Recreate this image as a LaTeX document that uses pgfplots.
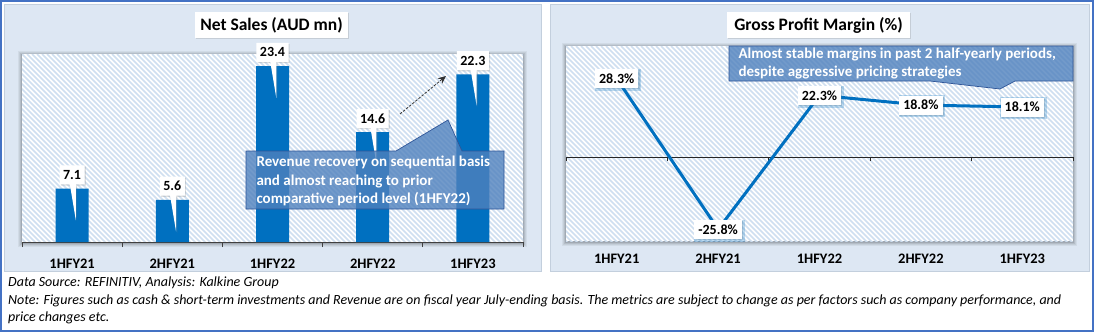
\documentclass[border=0pt]{standalone}
\usepackage{fontspec}
\setmainfont{Carlito}
\usepackage{pgfplots}
\pgfplotsset{compat=1.18}
\usepackage{pgfplotstable}
\usetikzlibrary{shapes.callouts,shadows,arrows.meta}

\definecolor{frameblue}{HTML}{4472C4}
\definecolor{panelbg}{HTML}{DDE7F3}
\definecolor{panelline}{HTML}{C3CFDD}
\definecolor{hatch}{HTML}{CFDFF0}
\definecolor{barblue}{HTML}{0070C0}
\definecolor{calloutfill}{HTML}{4F81BD}
\definecolor{calloutdraw}{HTML}{2F5597}

\pgfplotstableread{
x y lab
0 7.1 7.1
1 5.6 5.6
2 23.4 23.4
3 14.6 14.6
4 22.3 22.3
}\salesdata

\pgfplotstableread{
x y lab
0 28.3 28.3
1 -25.8 -25.8
2 22.3 22.3
3 18.8 18.8
4 18.1 18.1
}\gpmdata

\tikzset{
  lblshadow/.style={drop shadow={opacity=0.25, shadow xshift=1.2bp, shadow yshift=-1.2bp}},
}

\begin{document}
\begin{tikzpicture}
\useasboundingbox (0,0) rectangle (1094bp,-332bp);
\begin{scope}[x=1bp,y=-1bp]
  \fill[white] (0,0) rectangle (1094,332);
  \filldraw[fill=panelbg, draw=panelline, line width=0.6bp] (4.5,4.5) rectangle (541,271);
  \filldraw[fill=panelbg, draw=panelline, line width=0.6bp] (550,4.5) rectangle (1089.5,271);
  % plot area shadows
  \foreach \r/\o in {4/0.05,3/0.06,2/0.08,1/0.10} {
    \fill[black, opacity=\o] (22-\r,54-\r+1) rectangle (523+\r,242+\r+1);
    \fill[black, opacity=\o] (566-\r,46-\r+1) rectangle (1073+\r,241+\r+1);
  }
  \fill[white] (22,54) rectangle (523,242);
  \fill[white] (566,46) rectangle (1073,241);
  \begin{scope}
    \clip (22,54) rectangle (523,242);
    \foreach \i in {0,...,140} {
      \draw[hatch, line width=1.7bp] ({22-190+5*\i},54) -- ({22-190+5*\i+190},244);
    }
  \end{scope}
  \begin{scope}
    \clip (566,46) rectangle (1073,241);
    \foreach \i in {0,...,142} {
      \draw[hatch, line width=1.7bp] ({566-200+5*\i},46) -- ({566-200+5*\i+200},246);
    }
  \end{scope}
\end{scope}

% ---------------- Net Sales ----------------
\begin{axis}[
  at={(22bp,-242bp)}, anchor=south west,
  scale only axis, width=501bp, height=188bp,
  xmin=-0.5, xmax=4.5, ymin=0, ymax=25,
  ybar, bar width=33bp,
  axis y line=none, axis x line*=bottom,
  x axis line style={draw=black!75, line width=0.7bp},
  xtick={0,1,2,3,4},
  xticklabels={1HFY21,2HFY21,1HFY22,2HFY22,1HFY23},
  major x tick style={draw=none},
  minor xtick={-0.5,0.5,1.5,2.5,3.5,4.5},
  minor tick length=5bp, tick align=outside,
  minor x tick style={draw=black!75, line width=0.7bp},
  xticklabel style={font=\fontsize{14.5bp}{16bp}\selectfont\bfseries, yshift=-9bp},
  clip=false,
]
\addplot[fill=barblue, draw=none,
  nodes near coords, point meta=explicit symbolic,
  every node near coord/.style={rectangle callout, fill=white, lblshadow,
    font=\fontsize{14bp}{16bp}\selectfont\bfseries, text=black,
    inner xsep=3.5bp, inner ysep=3bp, minimum height=19bp,
    anchor=south, yshift=4bp,
    callout relative pointer={(3bp,-36bp)}, callout pointer width=6bp}
] table[x=x, y=y, meta=lab]{\salesdata};
\end{axis}

% ---------------- Gross Profit Margin ----------------
\begin{axis}[
  at={(566bp,-241bp)}, anchor=south west,
  scale only axis, width=507bp, height=195bp,
  xmin=-0.5, xmax=4.5, ymin=-30, ymax=40,
  axis y line=none, axis x line*=bottom,
  x axis line style={draw=none},
  xtick={0,1,2,3,4},
  xticklabels={1HFY21,2HFY21,1HFY22,2HFY22,1HFY23},
  major x tick style={draw=none},
  xticklabel style={font=\fontsize{14.5bp}{16bp}\selectfont\bfseries, yshift=-9bp},
  clip=false,
]
\draw[black!85, line width=1bp] (axis cs:-0.5,0) -- (axis cs:4.5,0);
\pgfplotsinvokeforeach{-0.5,0.5,1.5,2.5,3.5,4.5}{
  \draw[black!85, line width=0.8bp] (axis cs:#1,0) -- ([yshift=-4bp]axis cs:#1,0);
}
\addplot[barblue, line width=3bp, mark=none,
  nodes near coords, point meta=explicit symbolic,
  nodes near coords={\pgfplotspointmeta\%},
  every node near coord/.style={fill=white, lblshadow,
    font=\fontsize{14bp}{16bp}\selectfont\bfseries, text=black,
    inner xsep=4bp, inner ysep=3bp, minimum height=19bp, anchor=center}
] table[x=x, y=y, meta=lab]{\gpmdata};
\end{axis}

\begin{scope}[x=1bp,y=-1bp]
  % titles
  \node[fill=white, lblshadow, minimum width=153bp, minimum height=26bp,
        font=\fontsize{17.5bp}{20bp}\selectfont\bfseries] at (271.5,25) {Net Sales (AUD mn)};
  \node[fill=white, lblshadow, minimum width=183bp, minimum height=26bp,
        font=\fontsize{17.5bp}{20bp}\selectfont\bfseries] at (818.5,25) {Gross Profit Margin (\%)};
  % dashed arrow
  \draw[black!80, line width=0.8bp, dash pattern=on 2.5bp off 1.5bp,
        -{Stealth[length=8bp,width=7bp]}] (400,114) -- (446,76);
  % left callout
  \filldraw[fill=calloutfill, fill opacity=0.8, draw=calloutdraw, line width=0.7bp]
    (246,151) -- (396,151) -- (448,120) -- (462,151) -- (504,151) -- (504,209) -- (246,209) -- cycle;
  \node[anchor=west, align=left, text=white, font=\fontsize{15bp}{18.5bp}\selectfont\bfseries]
    at (253,181) {Revenue recovery on sequential basis\\and almost reaching to prior\\comparative period level (1HFY22)};
  % right callout
  \filldraw[fill=calloutfill, fill opacity=0.8, draw=calloutdraw, line width=0.7bp]
    (729,46) -- (1073,46) -- (1073,81) -- (1015,81) -- (1000,89) -- (930,81) -- (729,81) -- cycle;
  \node[anchor=west, align=left, text=white, font=\fontsize{15bp}{18bp}\selectfont\bfseries]
    at (735,64) {Almost stable margins in past 2 half-yearly periods,\\despite aggressive pricing strategies};
  % footer
  \node[anchor=west, inner sep=0, font=\fontsize{14bp}{16bp}\selectfont\itshape] at (8,283) {Data Source: REFINITIV, Analysis: Kalkine Group};
  \node[anchor=west, inner sep=0, font=\fontsize{14bp}{16bp}\selectfont\itshape] at (8,301) {Note: Figures such as cash \& short-term investments and Revenue are on fiscal year July-ending basis. The metrics are subject to change as per factors such as company performance, and};
  \node[anchor=west, inner sep=0, font=\fontsize{14bp}{16bp}\selectfont\itshape] at (8,318) {price changes etc.};
  % outer frame
  \draw[frameblue, line width=2.2bp] (1.1,1.1) rectangle (1092.9,330.9);
\end{scope}
\end{tikzpicture}
\end{document}
